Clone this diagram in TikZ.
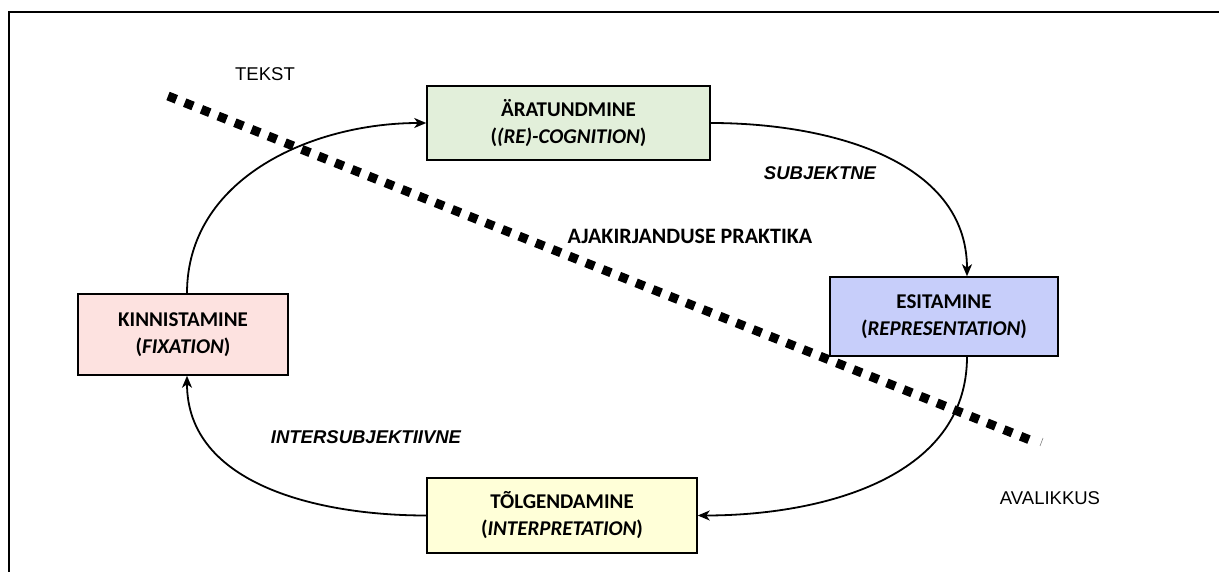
\documentclass[tikz,border=0pt]{standalone}
\usepackage{fontspec}
\setmainfont{Liberation Sans}
\newfontfamily\boxfont{Carlito}
\usetikzlibrary{arrows.meta}

\definecolor{recfill}{RGB}{226,239,218}
\definecolor{esifill}{RGB}{199,206,250}
\definecolor{kinfill}{RGB}{253,226,224}
\definecolor{tolfill}{RGB}{255,255,216}

\tikzset{
  stage/.style={draw=black, line width=1.5pt, inner sep=0pt, align=center,
    font=\boxfont\bfseries\fontsize{21}{27}\selectfont},
  conn/.style={line width=1.8pt, -{Stealth[length=12pt,width=10pt,inset=3.5pt]}},
  plain/.style={font=\fontsize{18.5}{21}\selectfont},
  phase/.style={font=\bfseries\itshape\fontsize{18.5}{21}\selectfont},
  border/.style={line width=2.4pt},
  divider/.style={line width=9pt, dash pattern=on 9pt off 9pt}
}

\begin{document}
\begin{tikzpicture}[x=1pt,y=-1pt]
  \useasboundingbox (0,0) rectangle (1219,572);

  % frame (top and left edges only)
  \draw[border] (9,572) -- (9,12) -- (1219,12);

  % the four stages
  \node[stage, fill=recfill, minimum width=283pt, minimum height=74pt] (rec) at (568.5,123)
    {ÄRATUNDMINE\\(\textit{(RE)-COGNITION})};
  \node[stage, fill=esifill, minimum width=228pt, minimum height=79pt] (esi) at (944,316.5)
    {ESITAMINE\\(\textit{REPRESENTATION})};
  \node[stage, fill=kinfill, minimum width=210pt, minimum height=81pt] (kin) at (183,334.5)
    {KINNISTAMINE\\(\textit{FIXATION})};
  \node[stage, fill=tolfill, minimum width=270pt, minimum height=75pt] (tol) at (562,515.5)
    {TÕLGENDAMINE\\(\textit{INTERPRETATION})};

  % dividing line between text and audience
  \coordinate (d1) at (168,96);
  \coordinate (d2) at (1030,440);
  \draw[divider] (d1) -- (d2);
  \coordinate (t1) at (1040,446);
  \coordinate (t2) at (1043,438);
  \draw[gray, line width=0.6pt] (t1) -- (t2);

  % cycle
  \coordinate (kinTop) at ([xshift=4pt]kin.north);
  \coordinate (esiTop) at ([xshift=23pt]esi.north);
  \coordinate (esiBot) at ([xshift=23pt]esi.south);
  \coordinate (kinBot) at ([xshift=4pt]kin.south);
  \draw[conn] (kinTop) to[out=90, in=180] (rec.west);
  \draw[conn] (rec.east) to[out=0, in=90] (esiTop);
  \draw[conn] (esiBot) to[out=270, in=0] (tol.east);
  \draw[conn] (tol.west) to[out=180, in=270] (kinBot);

  % labels
  \node[plain] (tekst) at (265,74) {TEKST};
  \node[plain] (aval) at (1050,498) {AVALIKKUS};
  \node[phase] (subj) at (820,173) {SUBJEKTNE};
  \node[phase] (inter) at (366,437) {INTERSUBJEKTIIVNE};
  \node[font=\boxfont\bfseries\fontsize{22}{24}\selectfont] (prak) at (690,236) {AJAKIRJANDUSE PRAKTIKA};
\end{tikzpicture}
\end{document}
